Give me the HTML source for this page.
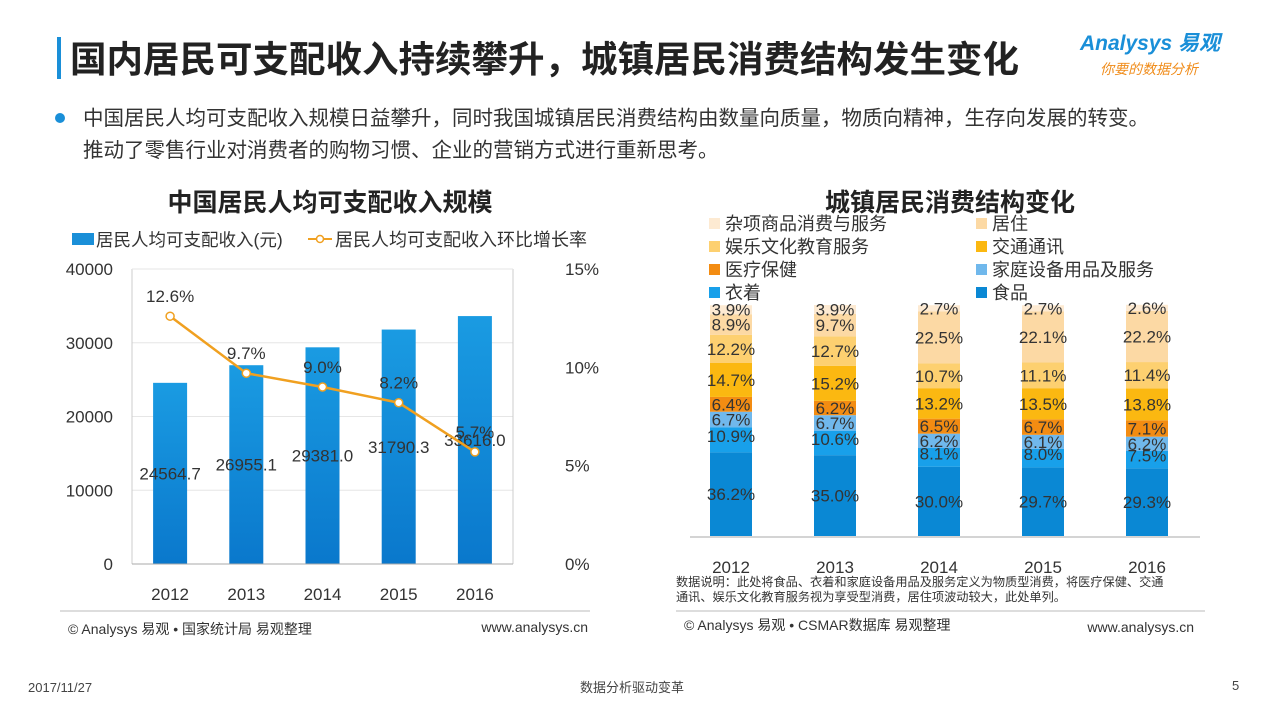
<!DOCTYPE html>
<html><head><meta charset="utf-8">
<style>
body{margin:0;background:#fff;}
svg{display:block;font-family:"Liberation Sans","Noto Sans CJK SC",sans-serif;}
</style></head>
<body>
<svg id="s" width="1265" height="712" viewBox="0 0 1265 712">
<rect x="57" y="37" width="4" height="42" fill="#1a8fd8"/>
<text x="70" y="72" font-size="36.5" font-weight="bold" fill="#222">国内居民可支配收入持续攀升，城镇居民消费结构发生变化</text>
<text x="1080" y="50" font-size="21" fill="#1a8fd8" font-weight="bold" font-style="italic">Analysys 易观</text>
<text x="1100" y="74" font-size="14" fill="#f08c1a" font-style="italic">你要的数据分析</text>
<circle cx="60" cy="118" r="5" fill="#1a8fd8"/>
<text x="83" y="125" font-size="20.5" fill="#333">中国居民人均可支配收入规模日益攀升，同时我国城镇居民消费结构由数量向质量，物质向精神，生存向发展的转变。</text>
<text x="83" y="157" font-size="20.5" fill="#333">推动了零售行业对消费者的购物习惯、企业的营销方式进行重新思考。</text>

<text x="330" y="211" font-size="25" font-weight="bold" fill="#222" text-anchor="middle">中国居民人均可支配收入规模</text>
<rect x="72" y="233" width="22" height="12" fill="#1a8fd8"/>
<text x="96" y="246" font-size="17.5" fill="#333">居民人均可支配收入(元)</text>
<line x1="308" y1="239" x2="332" y2="239" stroke="#f0a020" stroke-width="2"/>
<circle cx="320" cy="239" r="3.5" fill="#fff" stroke="#f0a020" stroke-width="1.5"/>
<text x="335" y="246" font-size="18" fill="#333">居民人均可支配收入环比增长率</text>
<g id="left"></g>
<line x1="60" y1="611" x2="590" y2="611" stroke="#bbb"/>
<text x="68" y="634" font-size="14" fill="#333">© Analysys 易观 • 国家统计局  易观整理</text>
<text x="588" y="632" font-size="14" fill="#333" text-anchor="end">www.analysys.cn</text>

<text x="950" y="211" font-size="25" font-weight="bold" fill="#222" text-anchor="middle">城镇居民消费结构变化</text>
<g id="legend2"></g>
<g id="right"></g>
<text x="676" y="586" font-size="12.2" fill="#333">数据说明：此处将食品、衣着和家庭设备用品及服务定义为物质型消费，将医疗保健、交通</text>
<text x="676" y="601" font-size="12.2" fill="#333">通讯、娱乐文化教育服务视为享受型消费，居住项波动较大，此处单列。</text>
<line x1="676" y1="611" x2="1205" y2="611" stroke="#bbb"/>
<text x="684" y="630" font-size="14" fill="#333">© Analysys 易观 • CSMAR数据库  易观整理</text>
<text x="1194" y="632" font-size="14" fill="#333" text-anchor="end">www.analysys.cn</text>

<text x="28" y="692" font-size="13" fill="#444">2017/11/27</text>
<text x="632" y="692" font-size="13" fill="#444" text-anchor="middle">数据分析驱动变革</text>
<text x="1232" y="690" font-size="13" fill="#444">5</text>
</svg>
<script>
const years=["2012","2013","2014","2015","2016"];
const income=[24564.7,26955.1,29381.0,31790.3,33616.0];
const growth=[12.6,9.7,9.0,8.2,5.7];
const yTicks=[0,10000,20000,30000,40000];
const y2Ticks=[0,5,10,15];
const catNames=["食品","衣着","家庭设备用品及服务","医疗保健","交通通讯","娱乐文化教育服务","居住","杂项商品消费与服务"];
const catColors=["#0a88d4","#18a0ea","#70b8ec","#f38c12","#fbb811","#fdd070","#fcd9a4","#fdead2"];
const share2012=[36.2,10.9,6.7,6.4,14.7,12.2,8.9,3.9];
const share2013=[35.0,10.6,6.7,6.2,15.2,12.7,9.7,3.9];
const share2014=[30.0,8.1,6.2,6.5,13.2,10.7,22.5,2.7];
const share2015=[29.7,8.0,6.1,6.7,13.5,11.1,22.1,2.7];
const share2016=[29.3,7.5,6.2,7.1,13.8,11.4,22.2,2.6];
const shares=[share2012,share2013,share2014,share2015,share2016];

const NS="http://www.w3.org/2000/svg";
function mk(tag,attrs,parent,txt){const e=document.createElementNS(NS,tag);for(const k in attrs)e.setAttribute(k,attrs[k]);if(txt!==undefined)e.textContent=txt;parent.appendChild(e);return e;}

// left chart
const L=document.getElementById('left');
const px0=132,px1=513,py0=564,py1=269;
const xC=i=>px0+(px1-px0)/years.length*(i+0.5);
const yL=v=>py0-(v/40000)*(py0-py1);
const yR=v=>py0-(v/15)*(py0-py1);
const defs=mk('defs',{},L);
const g=mk('linearGradient',{id:'bg',x1:0,y1:0,x2:0,y2:1},defs);
mk('stop',{offset:'0','stop-color':'#1a9be2'},g);mk('stop',{offset:'1','stop-color':'#0a78cc'},g);
yTicks.forEach(t=>{
 if(t>0){const gl=mk('line',{x1:px0,x2:px1,y1:yL(t),y2:yL(t),stroke:'#e6e6e6'},L);
 
 }
 const tx=mk('text',{x:113,y:yL(t)+6,'font-size':17,fill:'#333','text-anchor':'end'},L,String(t));
 
 
});
y2Ticks.forEach(t=>{
 const tx=mk('text',{x:565,y:yR(t)+6,'font-size':17,fill:'#333'},L,t+'%');
 
 
});
mk('line',{x1:px0,x2:px0,y1:py1,y2:py0,stroke:'#ccc'},L);
mk('line',{x1:px1,x2:px1,y1:py1,y2:py0,stroke:'#ccc'},L);
mk('line',{x1:px0,x2:px1,y1:py1,y2:py1,stroke:'#e6e6e6'},L);
income.forEach((v,i)=>{
 const b=mk('rect',{x:xC(i)-17,y:yL(v),width:34,height:py0-yL(v),fill:'url(#bg)'},L);
 
 
});
mk('line',{x1:px0,x2:px1,y1:py0,y2:py0,stroke:'#aaa'},L);
years.forEach((y,i)=>{
 const tx=mk('text',{x:xC(i),y:600,'font-size':17,fill:'#333','text-anchor':'middle'},L,y);
 
 
});
income.forEach((v,i)=>{
 const tx=mk('text',{x:xC(i),y:(yL(v)+py0)/2+6,'font-size':17,fill:'#333','text-anchor':'middle'},L,v.toFixed(1));
 
 
});
mk('polyline',{points:growth.map((v,i)=>xC(i)+','+yR(v)).join(' '),fill:'none',stroke:'#f0a020','stroke-width':2.5},L);
growth.forEach((v,i)=>{
 const c=mk('circle',{cx:xC(i),cy:yR(v),r:4,fill:'#fff',stroke:'#f0a020','stroke-width':1.5},L);
 
 
 const tx=mk('text',{x:xC(i),y:yR(v)-14,'font-size':17,fill:'#333','text-anchor':'middle'},L,v.toFixed(1)+'%');
 
 
});

// right legend
const LG=document.getElementById('legend2');
const legOrder=[7,6,5,4,3,2,1,0];
legOrder.forEach((ci,k)=>{
 const col=k%2, row=Math.floor(k/2);
 const x=col?976:709, y=224+row*23;
 const sw=mk('rect',{x:x,y:y-6,width:11,height:11,fill:catColors[ci]},LG);
 
 
 const tx=mk('text',{x:x+16,y:y+6,'font-size':18,fill:'#333'},LG,catNames[ci]);
 
 
});

// right chart
const R=document.getElementById('right');
const rb=536,rt=305;
const rx=i=>731+i*104;
const ys=p=>(p/100)*(rb-rt);
shares.forEach((arr,i)=>{
 let acc=0;
 arr.forEach((p,ci)=>{
  const y0=rb-ys(acc), h=ys(p);
  const r=mk('rect',{x:rx(i)-21,y:y0-h,width:42,height:h,fill:catColors[ci]},R);
  
  
  acc+=p;
 });
 acc=0;
 arr.forEach((p,ci)=>{
  const y0=rb-ys(acc), h=ys(p);
  let ly=y0-h/2+6;
  if(ci===7) ly=Math.min(ly,rt+12);
  if(ci===1) ly=y0-h/2+2;
  const tx=mk('text',{x:rx(i),y:ly,'font-size':17,fill:'#333','text-anchor':'middle'},R,p.toFixed(1)+'%');
  
  
  acc+=p;
 });
 const tx=mk('text',{x:rx(i),y:573,'font-size':17,fill:'#333','text-anchor':'middle'},R,years[i]);
 
 
});
mk('line',{x1:690,x2:1200,y1:rb+1,y2:rb+1,stroke:'#aaa'},R);
</script>
</body></html>
